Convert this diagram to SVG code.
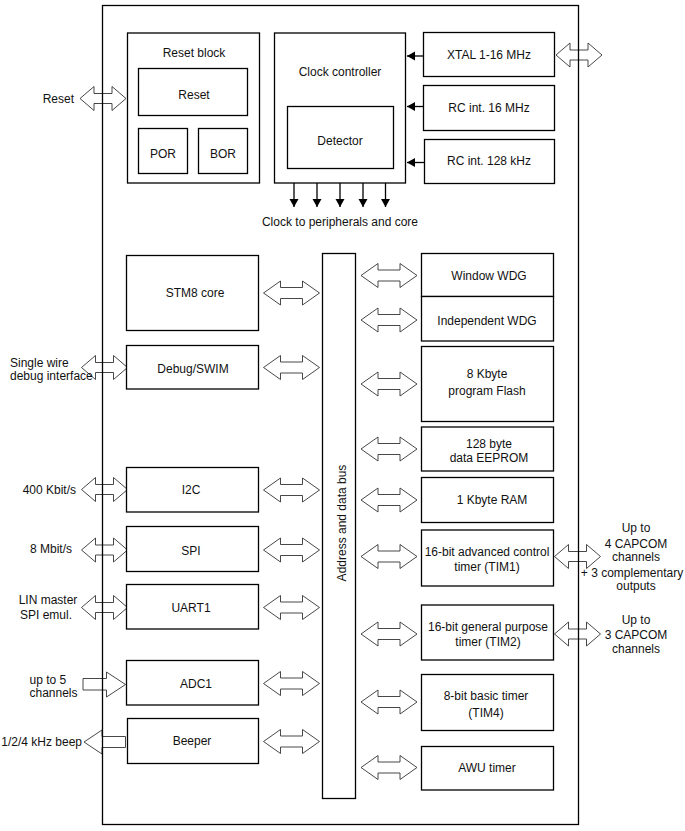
<svg xmlns="http://www.w3.org/2000/svg" xmlns:xlink="http://www.w3.org/1999/xlink" width="685" height="831" viewBox="0 0 685 831">
<style>
  .box { fill: #fff; stroke: #000; stroke-width: 1.3; }
  .t { font-family: "Liberation Sans", Arial, sans-serif; font-size: 12px; fill: #111; }
  .c { text-anchor: middle; }
  .e { text-anchor: end; }
  .arr { fill: #fff; stroke: #333; stroke-width: 0.9; stroke-linejoin: miter; }
  .ln { stroke: #000; stroke-width: 1.3; fill: none; }
</style>
<defs>
  <polygon id="dbl56" class="arr" points="0,0 17,-12 17,-5.5 39,-5.5 39,-12 56,0 39,12 39,5.5 17,5.5 17,12"/>
  <polygon id="dbl46" class="arr" points="0,0 14,-12 14,-5 32,-5 32,-12 46,0 32,12 32,5 14,5 14,12"/>
  <marker id="blk" markerWidth="10" markerHeight="10" refX="8" refY="5" orient="auto" markerUnits="userSpaceOnUse">
    <polygon points="0,0.5 8,5 0,9.5" fill="#000"/>
  </marker>
</defs>
<rect width="685" height="831" fill="#fff"/>

<!-- connectors -->
<g id="connectors">
  <!-- external arrows -->
  <use xlink:href="#dbl46" x="80" y="98.5"/>
  <use xlink:href="#dbl46" x="81.5" y="367.5"/>
  <use xlink:href="#dbl46" x="81.5" y="489.5"/>
  <use xlink:href="#dbl46" x="81.5" y="550"/>
  <use xlink:href="#dbl46" x="81.5" y="607.5"/>
  <polygon class="arr" points="83,678.5 106.5,678.5 106.5,672 125.5,684.5 106.5,697 106.5,690 83,690"/>
  <polygon class="arr" points="125.5,736.5 102,736.5 102,730 84,742 102,754 102,747.5 125.5,747.5"/>
  <use xlink:href="#dbl46" x="556" y="55"/>
  <use xlink:href="#dbl46" x="554.5" y="556.5"/>
  <use xlink:href="#dbl46" x="554.5" y="634"/>
  <!-- outer border drawn over arrows -->
  <rect x="102.5" y="5.5" width="476" height="819" fill="none" stroke="#000" stroke-width="1.3"/>
  <!-- bus arrows left -->
  <use xlink:href="#dbl56" x="263.5" y="293"/>
  <use xlink:href="#dbl56" x="263.5" y="367.5"/>
  <use xlink:href="#dbl56" x="263.5" y="490"/>
  <use xlink:href="#dbl56" x="263.5" y="550"/>
  <use xlink:href="#dbl56" x="263.5" y="607.5"/>
  <use xlink:href="#dbl56" x="263.5" y="683.5"/>
  <use xlink:href="#dbl56" x="263.5" y="741.5"/>
  <!-- bus arrows right -->
  <use xlink:href="#dbl56" x="361" y="275.5"/>
  <use xlink:href="#dbl56" x="361" y="320"/>
  <use xlink:href="#dbl56" x="361" y="384"/>
  <use xlink:href="#dbl56" x="361" y="449"/>
  <use xlink:href="#dbl56" x="361" y="500"/>
  <use xlink:href="#dbl56" x="361" y="556.5"/>
  <use xlink:href="#dbl56" x="361" y="634"/>
  <use xlink:href="#dbl56" x="361" y="702"/>
  <use xlink:href="#dbl56" x="361" y="767.5"/>
  <!-- oscillator to clock controller -->
  <line class="ln" x1="423.5" y1="56" x2="407" y2="56" marker-end="url(#blk)"/>
  <line class="ln" x1="423.5" y1="106.5" x2="407" y2="106.5" marker-end="url(#blk)"/>
  <line class="ln" x1="424.5" y1="162.5" x2="407" y2="162.5" marker-end="url(#blk)"/>
  <!-- clock outputs -->
  <line class="ln" x1="294" y1="183" x2="294" y2="207" marker-end="url(#blk)"/>
  <line class="ln" x1="317" y1="183" x2="317" y2="207" marker-end="url(#blk)"/>
  <line class="ln" x1="340" y1="183" x2="340" y2="207" marker-end="url(#blk)"/>
  <line class="ln" x1="363" y1="183" x2="363" y2="207" marker-end="url(#blk)"/>
  <line class="ln" x1="385.5" y1="183" x2="385.5" y2="207" marker-end="url(#blk)"/>
</g>

<!-- external labels -->
<g id="labels">
  <text class="t e" x="74" y="102.5">Reset</text>
  <text class="t" x="10" y="366.5">Single wire</text>
  <text class="t" x="10" y="380">debug interface</text>
  <text class="t e" x="76" y="493.5">400 Kbit/s</text>
  <text class="t e" x="72" y="552.5">8 Mbit/s</text>
  <text class="t c" x="48" y="603.5">LIN master</text>
  <text class="t c" x="46" y="618.5">SPI emul.</text>
  <text class="t" x="29.5" y="683.5">up to 5</text>
  <text class="t" x="29.5" y="696.5">channels</text>
  <text class="t e" x="82" y="745.5">1/2/4 kHz beep</text>
  <text class="t c" x="340" y="226">Clock to peripherals and core</text>
  <text class="t c" x="636" y="532">Up to</text>
  <text class="t c" x="636" y="548">4 CAPCOM</text>
  <text class="t c" x="636" y="561">channels</text>
  <text class="t c" x="632" y="576.5">+ 3 complementary</text>
  <text class="t c" x="636" y="590">outputs</text>
  <text class="t c" x="636" y="623.5">Up to</text>
  <text class="t c" x="636" y="638.5">3 CAPCOM</text>
  <text class="t c" x="636" y="652.5">channels</text>
</g>

<g id="reset-block">
  <rect class="box" x="127.5" y="33" width="132" height="150"/>
  <text class="t c" x="194" y="57">Reset block</text>
</g>
<g id="reset">
  <rect class="box" x="138.5" y="68.5" width="109" height="47"/>
  <text class="t c" x="194" y="99">Reset</text>
</g>
<g id="por">
  <rect class="box" x="138.5" y="128.5" width="49" height="45"/>
  <text class="t c" x="163" y="158">POR</text>
</g>
<g id="bor">
  <rect class="box" x="198.5" y="128.5" width="49" height="45"/>
  <text class="t c" x="223" y="158">BOR</text>
</g>
<g id="clock-controller">
  <rect class="box" x="274.5" y="33" width="131" height="150"/>
  <text class="t c" x="340" y="76">Clock controller</text>
</g>
<g id="detector">
  <rect class="box" x="287.5" y="106.5" width="106" height="62"/>
  <text class="t c" x="340" y="145">Detector</text>
</g>
<g id="xtal">
  <rect class="box" x="423.5" y="32.5" width="131" height="44"/>
  <text class="t c" x="489" y="59">XTAL 1-16 MHz</text>
</g>
<g id="rc16">
  <rect class="box" x="423.5" y="85.5" width="131" height="45"/>
  <text class="t c" x="489" y="112">RC int. 16 MHz</text>
</g>
<g id="rc128">
  <rect class="box" x="424.5" y="139.5" width="130" height="44"/>
  <text class="t c" x="489" y="165">RC int. 128 kHz</text>
</g>

<g id="stm8-core">
  <rect class="box" x="126.5" y="255.5" width="132" height="75"/>
  <text class="t c" x="195" y="297">STM8 core</text>
</g>
<g id="debug-swim">
  <rect class="box" x="126.5" y="345.5" width="132" height="43.5"/>
  <text class="t c" x="193" y="372.5">Debug/SWIM</text>
</g>
<g id="i2c">
  <rect class="box" x="126.5" y="467.5" width="132" height="44.5"/>
  <text class="t c" x="191" y="493.5">I2C</text>
</g>
<g id="spi">
  <rect class="box" x="126.5" y="526.5" width="132" height="45"/>
  <text class="t c" x="191" y="555">SPI</text>
</g>
<g id="uart1">
  <rect class="box" x="126.5" y="584.5" width="132" height="44.5"/>
  <text class="t c" x="191" y="612">UART1</text>
</g>
<g id="adc1">
  <rect class="box" x="126.5" y="660.5" width="132" height="44.5"/>
  <text class="t c" x="196" y="687.5">ADC1</text>
</g>
<g id="beeper">
  <rect class="box" x="127.5" y="718.5" width="131" height="45"/>
  <text class="t c" x="192" y="745">Beeper</text>
</g>

<g id="bus">
  <rect class="box" x="322.5" y="253.5" width="33" height="545"/>
  <text class="t c" transform="translate(345.5,523) rotate(-90)">Address and data bus</text>
</g>

<g id="window-wdg">
  <rect class="box" x="421.5" y="253.5" width="132" height="43"/>
  <text class="t c" x="489" y="280">Window WDG</text>
</g>
<g id="independent-wdg">
  <rect class="box" x="421.5" y="296.5" width="132" height="44.5"/>
  <text class="t c" x="487" y="324.5">Independent WDG</text>
</g>
<g id="flash">
  <rect class="box" x="421.5" y="346.5" width="132" height="75"/>
  <text class="t c" x="487" y="377.5">8 Kbyte</text>
  <text class="t c" x="487" y="395">program Flash</text>
</g>
<g id="eeprom">
  <rect class="box" x="421.5" y="427" width="132" height="44"/>
  <text class="t c" x="489" y="447.5">128 byte</text>
  <text class="t c" x="489" y="462">data EEPROM</text>
</g>
<g id="ram">
  <rect class="box" x="421.5" y="477.5" width="132" height="45"/>
  <text class="t c" x="492" y="503.5">1 Kbyte RAM</text>
</g>
<g id="tim1">
  <rect class="box" x="421.5" y="530" width="132" height="56"/>
  <text class="t c" x="487" y="555.5">16-bit advanced control</text>
  <text class="t c" x="487" y="570.5">timer (TIM1)</text>
</g>
<g id="tim2">
  <rect class="box" x="421.5" y="605" width="132" height="55"/>
  <text class="t c" x="488" y="631">16-bit general purpose</text>
  <text class="t c" x="488" y="645.5">timer (TIM2)</text>
</g>
<g id="tim4">
  <rect class="box" x="421.5" y="674.5" width="132" height="56"/>
  <text class="t c" x="486" y="700">8-bit basic timer</text>
  <text class="t c" x="486" y="717">(TIM4)</text>
</g>
<g id="awu">
  <rect class="box" x="421.5" y="746.5" width="132" height="43.5"/>
  <text class="t c" x="487" y="772">AWU timer</text>
</g>
</svg>
